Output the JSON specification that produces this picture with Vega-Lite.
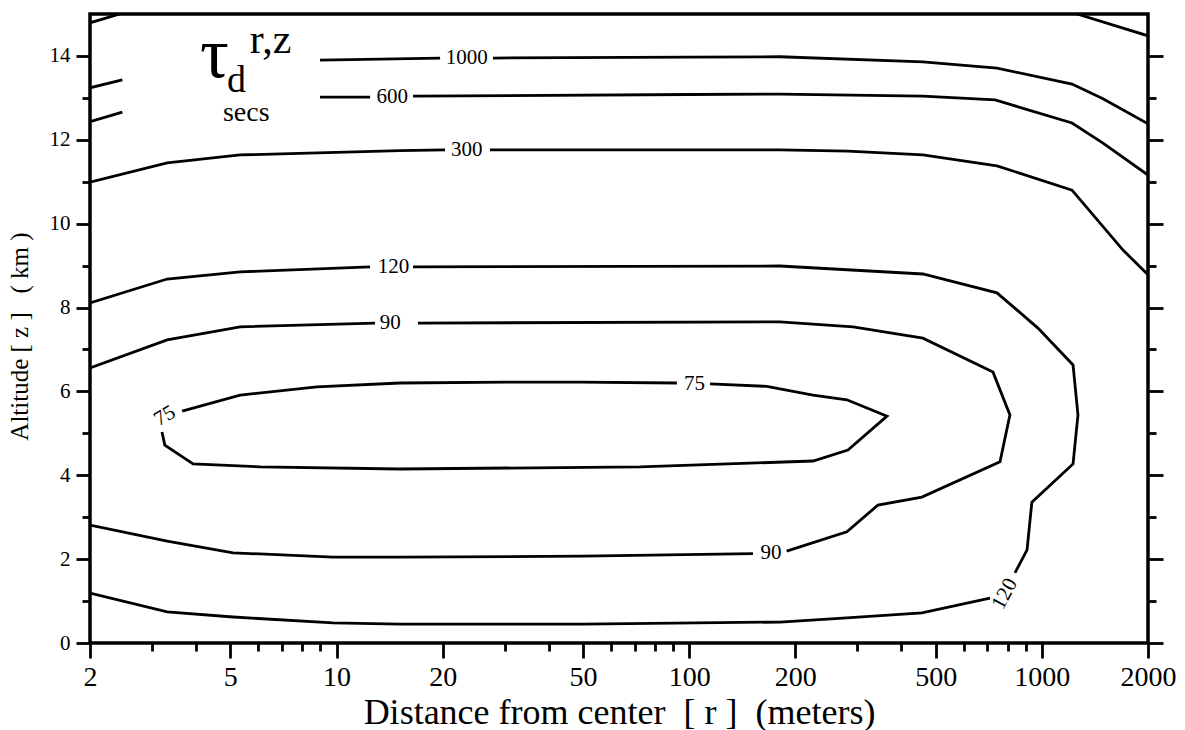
{
  "$schema": "https://vega.github.io/schema/vega-lite/v6.json",
  "width": 1058,
  "height": 629,
  "autosize": {"type": "none"},
  "padding": {"left": 90, "top": 14, "right": 37, "bottom": 87},
  "background": "white",
  "config": {
    "view": {"stroke": "black", "strokeWidth": 3.5},
    "font": "Liberation Serif",
    "axis": {"domain": false, "grid": false, "tickColor": "black", "tickWidth": 2.8, "labelColor": "black", "titleColor": "black", "labelFont": "Liberation Serif", "titleFont": "Liberation Serif", "titleFontWeight": "normal", "labelFlush": false, "labelOverlap": false}
  },
  "datasets": {
    "lines": [
      {"s": "A", "i": 0, "r": 2, "z": 14.79}, {"s": "A", "i": 1, "r": 2.43, "z": 15},
      {"s": "B", "i": 0, "r": 2, "z": 13.24}, {"s": "B", "i": 1, "r": 2.47, "z": 13.43},
      {"s": "C", "i": 0, "r": 2, "z": 12.43}, {"s": "C", "i": 1, "r": 2.47, "z": 12.66},
      {"s": "Zt", "i": 0, "r": 1258, "z": 15}, {"s": "Zt", "i": 1, "r": 2000, "z": 14.48},
      {"s": "D", "i": 0, "r": 8.98, "z": 13.9}, {"s": "D", "i": 1, "r": 19.66, "z": 13.95},
      {"s": "E", "i": 0, "r": 27.78, "z": 13.95}, {"s": "E", "i": 1, "r": 100, "z": 13.97}, {"s": "E", "i": 2, "r": 180.9, "z": 13.98}, {"s": "E", "i": 3, "r": 460, "z": 13.86}, {"s": "E", "i": 4, "r": 746, "z": 13.71}, {"s": "E", "i": 5, "r": 1218, "z": 13.33}, {"s": "E", "i": 6, "r": 1491, "z": 12.98}, {"s": "E", "i": 7, "r": 2000, "z": 12.38},
      {"s": "F", "i": 0, "r": 8.98, "z": 13.02}, {"s": "F", "i": 1, "r": 12.45, "z": 13.02},
      {"s": "G", "i": 0, "r": 16.48, "z": 13.04}, {"s": "G", "i": 1, "r": 100, "z": 13.08}, {"s": "G", "i": 2, "r": 180.9, "z": 13.09}, {"s": "G", "i": 3, "r": 460, "z": 13.04}, {"s": "G", "i": 4, "r": 737, "z": 12.95}, {"s": "G", "i": 5, "r": 1218, "z": 12.4}, {"s": "G", "i": 6, "r": 1491, "z": 11.92}, {"s": "G", "i": 7, "r": 2000, "z": 11.16},
      {"s": "H", "i": 0, "r": 2, "z": 10.99}, {"s": "H", "i": 1, "r": 3.31, "z": 11.45}, {"s": "H", "i": 2, "r": 5.33, "z": 11.64}, {"s": "H", "i": 3, "r": 15.14, "z": 11.74}, {"s": "H", "i": 4, "r": 20.31, "z": 11.76},
      {"s": "I", "i": 0, "r": 27.24, "z": 11.76}, {"s": "I", "i": 1, "r": 180.9, "z": 11.76}, {"s": "I", "i": 2, "r": 282, "z": 11.73}, {"s": "I", "i": 3, "r": 460, "z": 11.64}, {"s": "I", "i": 4, "r": 746, "z": 11.38}, {"s": "I", "i": 5, "r": 1218, "z": 10.8}, {"s": "I", "i": 6, "r": 1699, "z": 9.37}, {"s": "I", "i": 7, "r": 2000, "z": 8.78},
      {"s": "J", "i": 0, "r": 2, "z": 8.11}, {"s": "J", "i": 1, "r": 3.31, "z": 8.68}, {"s": "J", "i": 2, "r": 5.33, "z": 8.85}, {"s": "J", "i": 3, "r": 12.45, "z": 8.97},
      {"s": "K", "i": 0, "r": 16.48, "z": 8.97}, {"s": "K", "i": 1, "r": 180.9, "z": 8.99}, {"s": "K", "i": 2, "r": 460, "z": 8.8}, {"s": "K", "i": 3, "r": 746, "z": 8.35}, {"s": "K", "i": 4, "r": 975, "z": 7.51}, {"s": "K", "i": 5, "r": 1226, "z": 6.63}, {"s": "K", "i": 6, "r": 1266, "z": 5.44}, {"s": "K", "i": 7, "r": 1226, "z": 4.27}, {"s": "K", "i": 8, "r": 937, "z": 3.36}, {"s": "K", "i": 9, "r": 908, "z": 2.22}, {"s": "K", "i": 10, "r": 839, "z": 1.67},
      {"s": "L", "i": 0, "r": 713, "z": 1.07}, {"s": "L", "i": 1, "r": 457, "z": 0.72}, {"s": "L", "i": 2, "r": 280, "z": 0.6}, {"s": "L", "i": 3, "r": 181, "z": 0.5}, {"s": "L", "i": 4, "r": 50, "z": 0.45}, {"s": "L", "i": 5, "r": 15.14, "z": 0.45}, {"s": "L", "i": 6, "r": 9.77, "z": 0.48}, {"s": "L", "i": 7, "r": 5.09, "z": 0.62}, {"s": "L", "i": 8, "r": 3.31, "z": 0.74}, {"s": "L", "i": 9, "r": 2, "z": 1.19},
      {"s": "M", "i": 0, "r": 2, "z": 6.56}, {"s": "M", "i": 1, "r": 3.31, "z": 7.23}, {"s": "M", "i": 2, "r": 5.33, "z": 7.54}, {"s": "M", "i": 3, "r": 12.86, "z": 7.63},
      {"s": "N", "i": 0, "r": 17.02, "z": 7.63}, {"s": "N", "i": 1, "r": 180.9, "z": 7.66}, {"s": "N", "i": 2, "r": 291.5, "z": 7.54}, {"s": "N", "i": 3, "r": 460, "z": 7.27}, {"s": "N", "i": 4, "r": 727, "z": 6.46}, {"s": "N", "i": 5, "r": 812, "z": 5.44}, {"s": "N", "i": 6, "r": 761, "z": 4.32}, {"s": "N", "i": 7, "r": 457, "z": 3.48}, {"s": "N", "i": 8, "r": 343, "z": 3.29}, {"s": "N", "i": 9, "r": 280, "z": 2.65}, {"s": "N", "i": 10, "r": 189, "z": 2.19},
      {"s": "O", "i": 0, "r": 151.7, "z": 2.13}, {"s": "O", "i": 1, "r": 50, "z": 2.07}, {"s": "O", "i": 2, "r": 15, "z": 2.05}, {"s": "O", "i": 3, "r": 9.77, "z": 2.05}, {"s": "O", "i": 4, "r": 5.09, "z": 2.15}, {"s": "O", "i": 5, "r": 3.31, "z": 2.43}, {"s": "O", "i": 6, "r": 2, "z": 2.81},
      {"s": "P", "i": 0, "r": 3.65, "z": 5.53}, {"s": "P", "i": 1, "r": 5.33, "z": 5.91}, {"s": "P", "i": 2, "r": 8.8, "z": 6.11}, {"s": "P", "i": 3, "r": 15.14, "z": 6.2}, {"s": "P", "i": 4, "r": 30.44, "z": 6.22}, {"s": "P", "i": 5, "r": 49, "z": 6.22}, {"s": "P", "i": 6, "r": 92.3, "z": 6.2},
      {"s": "Q", "i": 0, "r": 114.6, "z": 6.18}, {"s": "Q", "i": 1, "r": 166, "z": 6.12}, {"s": "Q", "i": 2, "r": 224.5, "z": 5.91}, {"s": "Q", "i": 3, "r": 280, "z": 5.8}, {"s": "Q", "i": 4, "r": 363.9, "z": 5.41}, {"s": "Q", "i": 5, "r": 282, "z": 4.6}, {"s": "Q", "i": 6, "r": 224.5, "z": 4.34}, {"s": "Q", "i": 7, "r": 72.6, "z": 4.2}, {"s": "Q", "i": 8, "r": 15.14, "z": 4.15}, {"s": "Q", "i": 9, "r": 6.07, "z": 4.2}, {"s": "Q", "i": 10, "r": 3.92, "z": 4.27}, {"s": "Q", "i": 11, "r": 3.26, "z": 4.72}, {"s": "Q", "i": 12, "r": 3.2, "z": 5.03}
    ],
    "labels": [
      {"t": "1000", "k": "h", "r": 23.4, "z": 13.95},
      {"t": "600", "k": "h", "r": 14.4, "z": 13.02},
      {"t": "300", "k": "h", "r": 23.4, "z": 11.76},
      {"t": "120", "k": "h", "r": 14.5, "z": 8.97},
      {"t": "90", "k": "h", "r": 14.2, "z": 7.64},
      {"t": "90", "k": "h", "r": 170.6, "z": 2.15},
      {"t": "75", "k": "h", "r": 103.6, "z": 6.18},
      {"t": "75", "k": "l", "r": 3.26, "z": 5.41},
      {"t": "120", "k": "r", "r": 786, "z": 1.17}
    ],
    "ann": [
      {"t": "τ", "p": "tau", "r": 4.1, "z": 13.5},
      {"t": "d", "p": "sub", "r": 4.89, "z": 13.14},
      {"t": "r,z", "p": "sup", "r": 5.68, "z": 14.07},
      {"t": "secs", "p": "secs", "r": 4.765, "z": 12.45}
    ]
  },
  "resolve": {"axis": {"x": "independent", "y": "independent"}},
  "layer": [
    {
      "data": {"name": "lines"},
      "mark": {"type": "line", "color": "black", "strokeWidth": 2.8, "strokeJoin": "miter", "clip": true},
      "encoding": {
        "x": {"field": "r", "type": "quantitative", "scale": {"type": "log", "domain": [2, 2000], "nice": false},
          "axis": {"orient": "bottom", "values": [2, 5, 10, 20, 50, 100, 200, 500, 1000, 2000], "format": "d", "tickSize": 15, "labelFontSize": 28, "labelPadding": 5,
            "title": "Distance from center\u00a0\u00a0[ r ]\u00a0\u00a0(meters)", "titleFontSize": 36, "titleY": 80, "titleBaseline": "alphabetic"}},
        "y": {"field": "z", "type": "quantitative", "scale": {"domain": [0, 15], "nice": false, "zero": false},
          "axis": {"orient": "left", "values": [0, 2, 4, 6, 8, 10, 12, 14], "tickSize": 14, "labelFontSize": 21, "labelPadding": 6,
            "title": "Altitude [ z ]\u00a0\u00a0\u00a0( km )", "titleFontSize": 25, "titleX": -58, "titleY": 322}},
        "detail": {"field": "s", "type": "nominal"},
        "order": {"field": "i", "type": "quantitative"}
      }
    },
    {
      "data": {"name": "lines"},
      "mark": {"type": "point", "opacity": 0},
      "encoding": {
        "x": {"field": "r", "type": "quantitative", "scale": {"type": "log", "domain": [2, 2000], "nice": false},
          "axis": {"orient": "bottom", "values": [3, 4, 6, 7, 8, 9, 30, 40, 60, 70, 80, 90, 300, 400, 600, 700, 800, 900], "tickSize": 8, "labels": false, "title": null}},
        "y": {"field": "z", "type": "quantitative", "scale": {"domain": [0, 15], "nice": false, "zero": false},
          "axis": {"orient": "left", "values": [1, 3, 5, 7, 9, 11, 13], "tickSize": 8, "labels": false, "title": null}}
      }
    },
    {
      "data": {"name": "lines"},
      "mark": {"type": "point", "opacity": 0},
      "encoding": {
        "x": {"field": "r", "type": "quantitative", "scale": {"type": "log", "domain": [2, 2000], "nice": false}, "axis": null},
        "y": {"field": "z", "type": "quantitative", "scale": {"domain": [0, 15], "nice": false, "zero": false},
          "axis": {"orient": "right", "values": [0, 2, 4, 6, 8, 10, 12, 14], "tickSize": 15, "labels": false, "title": null}}
      }
    },
    {
      "data": {"name": "lines"},
      "mark": {"type": "point", "opacity": 0},
      "encoding": {
        "x": {"field": "r", "type": "quantitative", "scale": {"type": "log", "domain": [2, 2000], "nice": false}, "axis": null},
        "y": {"field": "z", "type": "quantitative", "scale": {"domain": [0, 15], "nice": false, "zero": false},
          "axis": {"orient": "right", "values": [1, 3, 5, 7, 9, 11, 13], "tickSize": 8, "labels": false, "title": null}}
      }
    },
    {
      "data": {"name": "labels"},
      "transform": [{"filter": "datum.k === 'h'"}],
      "mark": {"type": "text", "font": "Liberation Serif", "fontSize": 21, "align": "center", "baseline": "middle", "color": "black"},
      "encoding": {
        "x": {"field": "r", "type": "quantitative", "scale": {"type": "log", "domain": [2, 2000], "nice": false}, "axis": null},
        "y": {"field": "z", "type": "quantitative", "scale": {"domain": [0, 15], "nice": false, "zero": false}, "axis": null},
        "text": {"field": "t"}
      }
    },
    {
      "data": {"name": "labels"},
      "transform": [{"filter": "datum.k === 'l'"}],
      "mark": {"type": "text", "font": "Liberation Serif", "fontSize": 21, "align": "center", "baseline": "middle", "angle": 330, "color": "black"},
      "encoding": {
        "x": {"field": "r", "type": "quantitative", "scale": {"type": "log", "domain": [2, 2000], "nice": false}, "axis": null},
        "y": {"field": "z", "type": "quantitative", "scale": {"domain": [0, 15], "nice": false, "zero": false}, "axis": null},
        "text": {"field": "t"}
      }
    },
    {
      "data": {"name": "labels"},
      "transform": [{"filter": "datum.k === 'r'"}],
      "mark": {"type": "text", "font": "Liberation Serif", "fontSize": 21, "align": "center", "baseline": "middle", "angle": 298, "color": "black"},
      "encoding": {
        "x": {"field": "r", "type": "quantitative", "scale": {"type": "log", "domain": [2, 2000], "nice": false}, "axis": null},
        "y": {"field": "z", "type": "quantitative", "scale": {"domain": [0, 15], "nice": false, "zero": false}, "axis": null},
        "text": {"field": "t"}
      }
    },
    {
      "data": {"name": "ann"},
      "transform": [{"filter": "datum.p === 'tau'"}],
      "mark": {"type": "text", "font": "Liberation Serif", "fontSize": 72, "align": "left", "baseline": "alphabetic", "color": "black"},
      "encoding": {
        "x": {"field": "r", "type": "quantitative", "scale": {"type": "log", "domain": [2, 2000], "nice": false}, "axis": null},
        "y": {"field": "z", "type": "quantitative", "scale": {"domain": [0, 15], "nice": false, "zero": false}, "axis": null},
        "text": {"field": "t"}
      }
    },
    {
      "data": {"name": "ann"},
      "transform": [{"filter": "datum.p === 'sub'"}],
      "mark": {"type": "text", "font": "Liberation Serif", "fontSize": 38, "align": "left", "baseline": "alphabetic", "color": "black"},
      "encoding": {
        "x": {"field": "r", "type": "quantitative", "scale": {"type": "log", "domain": [2, 2000], "nice": false}, "axis": null},
        "y": {"field": "z", "type": "quantitative", "scale": {"domain": [0, 15], "nice": false, "zero": false}, "axis": null},
        "text": {"field": "t"}
      }
    },
    {
      "data": {"name": "ann"},
      "transform": [{"filter": "datum.p === 'sup'"}],
      "mark": {"type": "text", "font": "Liberation Serif", "fontSize": 42, "align": "left", "baseline": "alphabetic", "color": "black"},
      "encoding": {
        "x": {"field": "r", "type": "quantitative", "scale": {"type": "log", "domain": [2, 2000], "nice": false}, "axis": null},
        "y": {"field": "z", "type": "quantitative", "scale": {"domain": [0, 15], "nice": false, "zero": false}, "axis": null},
        "text": {"field": "t"}
      }
    },
    {
      "data": {"name": "ann"},
      "transform": [{"filter": "datum.p === 'secs'"}],
      "mark": {"type": "text", "font": "Liberation Serif", "fontSize": 28, "align": "left", "baseline": "alphabetic", "color": "black"},
      "encoding": {
        "x": {"field": "r", "type": "quantitative", "scale": {"type": "log", "domain": [2, 2000], "nice": false}, "axis": null},
        "y": {"field": "z", "type": "quantitative", "scale": {"domain": [0, 15], "nice": false, "zero": false}, "axis": null},
        "text": {"field": "t"}
      }
    }
  ]
}
